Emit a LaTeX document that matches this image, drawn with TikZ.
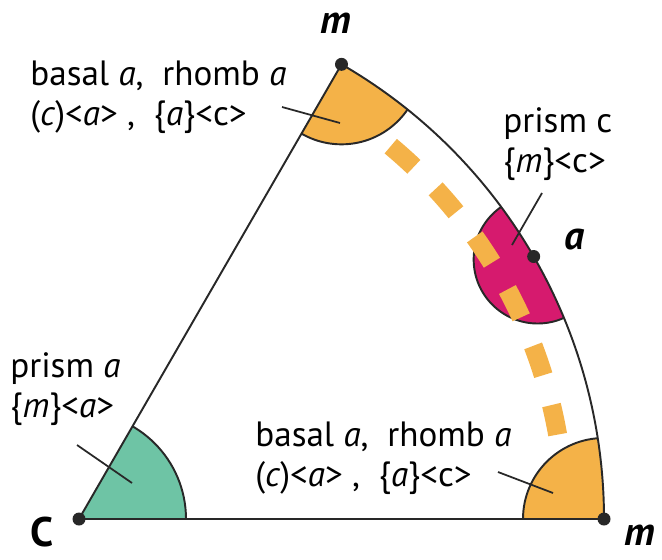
\documentclass[tikz,border=0pt]{standalone}
\usepackage{fontspec}
\setmainfont{PT Sans}
\definecolor{sectorange}{RGB}{244,178,72}
\definecolor{sectgreen}{RGB}{110,196,165}
\definecolor{sectmagenta}{RGB}{214,26,110}
\definecolor{edge}{RGB}{40,40,40}

\begin{document}
\begin{tikzpicture}[x=0.02cm,y=0.02cm,
  outline/.style={draw=edge,line width=1.1pt},
  leader/.style={draw=edge,line width=1pt},
  note/.style={anchor=west,align=left,inner sep=0pt,font=\fontsize{20}{22.7}\selectfont},
  pole/.style={inner sep=0pt,font=\fontsize{22.7}{24}\selectfont\bfseries},
  poledot/.style={circle,fill=edge,inner sep=0pt,minimum size=0.26cm},
  dashline/.style={draw=sectorange,line width=0.38cm,dash pattern=on 0.62cm off 0.62cm}]
\useasboundingbox (0,0) rectangle (662,559);

% corners of the triangle
\coordinate (c) at (79,40);
\coordinate (mb) at (604,40);
\path (c) ++(60:525) coordinate (mt);
\path (c) ++(30:525) coordinate (a);
\path (c) ++(29.5:527) coordinate (mg);

% coloured sectors
\begin{scope}
\clip (c) -- (mb) arc[start angle=0,end angle=60,radius=525] -- cycle;
\draw[outline,fill=sectgreen] (c) circle[radius=107];
\draw[outline,fill=sectmagenta] (mg) circle[radius=64];
\draw[dashline] (c) ++(50.1:486) arc[start angle=50.1,end angle=10,radius=486];
\draw[outline,fill=sectorange] (mt) circle[radius=80];
\draw[outline,fill=sectorange] (mb) circle[radius=81];
\end{scope}
\draw[outline] (c) -- (mb) arc[start angle=0,end angle=60,radius=525] -- cycle;

% labels
\node[note] (tlnote) at (30,462) {basal \textit{a},\ \ rhomb \textit{a}\\(\textit{c})<\textit{a}>\ ,\ \ \{\textit{a}\}<c>};
\node[note] (prcnote) at (503,415) {prism c\\\{\textit{m}\}<c>};
\node[note] (pranote) at (10,170) {prism \textit{a}\\\{\textit{m}\}<\textit{a}>};
\node[note] (brnote) at (255,101) {basal \textit{a},\ \ rhomb \textit{a}\\(\textit{c})<\textit{a}>\ ,\ \ \{\textit{a}\}<c>};

% leader lines
\coordinate (tlfree) at (282,452);
\coordinate (tlpin) at (340,436);
\coordinate (prcfree) at (542,366);
\coordinate (prcpin) at (512,314);
\coordinate (prafree) at (77,114);
\coordinate (prapin) at (132,76);
\coordinate (brfree) at (498,87);
\coordinate (brpin) at (553,66);
\draw[leader] (tlfree) -- (tlpin);
\draw[leader] (prcfree) -- (prcpin);
\draw[leader] (prafree) -- (prapin);
\draw[leader] (brfree) -- (brpin);

% poles
\node[poledot] at (c) {};
\node[poledot] at (mb) {};
\node[poledot] at (mt) {};
\node[poledot] at (a) {};
\node[pole] (mtop) at (336,536) {\itshape m};
\node[pole,font=\fontsize{23.5}{25}\selectfont\bfseries] (cpole) at (42,27) {C};
\node[pole] (apole) at (575,319) {\itshape a};
\node[pole] (mbot) at (640,24) {\itshape m};
\end{tikzpicture}
\end{document}
